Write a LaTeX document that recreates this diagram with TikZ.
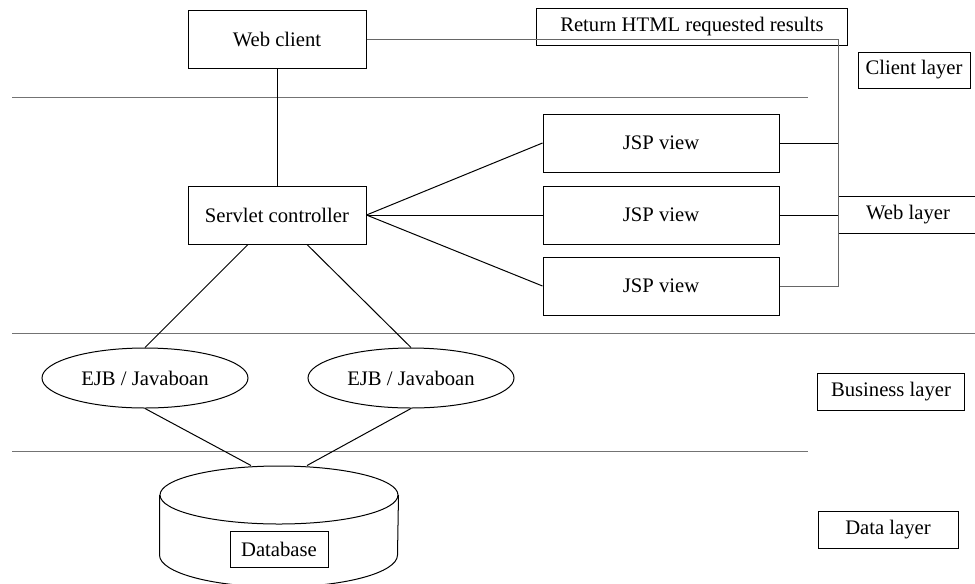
\documentclass[tikz,border=0pt]{standalone}
\usepackage{fontspec}
\setmainfont{Liberation Serif}
\usetikzlibrary{shapes.geometric,calc}

\tikzset{every picture/.style={line width=0.75pt}}
\tikzset{
  every node/.style={font=\fontsize{15.5}{18}\selectfont},
  box/.style={draw, inner sep=0.75pt, minimum width=133.5pt, minimum height=43.5pt},
  jspbox/.style={draw, inner sep=0.75pt, minimum width=177pt, minimum height=43.5pt},
  layerbox/.style={draw, inner sep=0.75pt, minimum height=28pt},
  ejb/.style={draw, ellipse, inner sep=0pt, minimum width=154.5pt, minimum height=45pt},
  sepline/.style={draw=black!55},
  busline/.style={draw=black!60}
}

\begin{document}
\begin{tikzpicture}[x=0.75pt,y=0.75pt,yscale=-1,xscale=1]
\useasboundingbox (0,0) rectangle (975,583);

%Straight Lines (layer separators)
\draw [sepline] (12,97) -- (808,97);
\draw [sepline] (12,333) -- (975,333);
\draw [sepline] (12,451) -- (808,451);

% Text Node
\node [box] (wc) at (277,39) {Web client};
% Text Node
\node [box] (srv) at (277,215) {Servlet controller};
% Text Node
\node [jspbox] (jsp1) at (661,143) {JSP view};
% Text Node
\node [jspbox] (jsp2) at (661,215) {JSP view};
% Text Node
\node [jspbox] (jsp3) at (661,286) {JSP view};
% Text Node
\node [layerbox, minimum width=233pt] (ret) at (692,27) {Return HTML requested results};
% Text Node
\node [layerbox, minimum width=84pt, minimum height=27pt] (cl) at (914,70) {Client layer};
% Text Node
\node [layerbox, minimum width=105pt] (wl) at (908,215) {Web layer};
% Text Node
\node [layerbox, minimum width=110pt] (bl) at (891,392) {Business layer};
% Text Node
\node [layerbox, minimum width=105pt] (dl) at (888,530) {Data layer};

%Shape: Ellipse
\node [ejb] (ejb1) at (145,378) {EJB / Javaboan};
%Shape: Ellipse
\node [ejb] (ejb2) at (411,378) {EJB / Javaboan};

%Shape: Can (database)
\node [draw, ellipse, inner sep=0pt, minimum width=178.5pt, minimum height=43.5pt] (dbtop) at (279,495) {};
\draw (dbtop.west) -- ++(0,60) arc[start angle=180, end angle=0, x radius=119, y radius=32] -- (dbtop.east);
% Text Node
\node [draw, inner sep=0.75pt, minimum width=73.5pt, minimum height=27pt] (db) at (279,549) {Database};

%Straight Lines
\draw (wc) -- (srv);
\draw (srv.east) -- (jsp1.west);
\draw (srv.east) -- (jsp2.west);
\draw (srv.east) -- (jsp3.west);
\draw ($(srv.south)+(-29,0)$) -- (ejb1.north);
\draw ($(srv.south)+(30,0)$) -- (ejb2.north);
\draw (ejb1.south) -- ($(dbtop.north)+(-28,0)$);
\draw (ejb2.south) -- ($(dbtop.north)+(28,0)$);

%Connector (returned results)
\coordinate (rbus) at (838,0);
\draw [busline] (wc.east) -| (rbus |- jsp3.east) -- (jsp3.east);
\draw (jsp1.east) -- (rbus |- jsp1.east);
\draw (jsp2.east) -- (wl.west);

\end{tikzpicture}
\end{document}
